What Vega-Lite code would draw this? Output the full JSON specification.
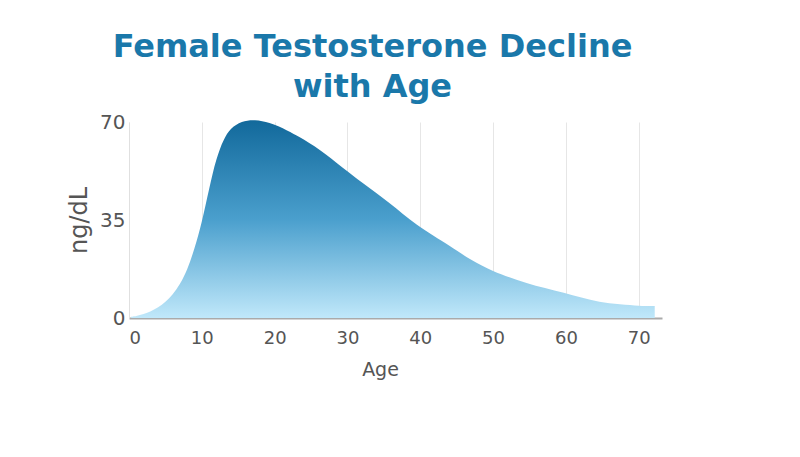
{
  "$schema": "https://vega.github.io/schema/vega-lite/v6.json",
  "autosize": {"type": "none"},
  "width": 533,
  "height": 196,
  "padding": {"left": 129, "top": 122, "right": 138, "bottom": 139},
  "background": "white",
  "title": {
    "text": ["Female Testosterone Decline", "with Age"],
    "font": "DejaVu Sans",
    "fontWeight": "bold",
    "fontSize": 32,
    "letterSpacing": 2.5,
    "color": "#1a78aa",
    "anchor": "middle",
    "dx": -23,
    "offset": 8,
    "lineHeight": 40
  },
  "data": {
    "values": [
      {"age": 0.3, "ngdl": 0.4},
      {"age": 1, "ngdl": 0.7},
      {"age": 2, "ngdl": 1.4},
      {"age": 3, "ngdl": 2.4},
      {"age": 4, "ngdl": 3.8},
      {"age": 5, "ngdl": 5.8},
      {"age": 6, "ngdl": 8.5},
      {"age": 7, "ngdl": 12.2},
      {"age": 8, "ngdl": 17.5},
      {"age": 9, "ngdl": 25},
      {"age": 10, "ngdl": 34.5},
      {"age": 11, "ngdl": 46},
      {"age": 12, "ngdl": 56.5},
      {"age": 13, "ngdl": 63.5},
      {"age": 14, "ngdl": 67.5},
      {"age": 15.5, "ngdl": 70},
      {"age": 17.3, "ngdl": 70.6},
      {"age": 19.3, "ngdl": 69.6},
      {"age": 21.7, "ngdl": 67},
      {"age": 23.4, "ngdl": 64.6},
      {"age": 26.2, "ngdl": 60},
      {"age": 29.4, "ngdl": 53.6},
      {"age": 32.1, "ngdl": 48.2},
      {"age": 35.8, "ngdl": 41},
      {"age": 39.5, "ngdl": 33.4},
      {"age": 44, "ngdl": 25.8},
      {"age": 47, "ngdl": 20.8},
      {"age": 50, "ngdl": 16.8},
      {"age": 54.6, "ngdl": 12.5},
      {"age": 59.7, "ngdl": 9},
      {"age": 64.6, "ngdl": 5.8},
      {"age": 70, "ngdl": 4.4},
      {"age": 72.2, "ngdl": 4.3}
    ]
  },
  "mark": {
    "type": "area",
    "interpolate": "catmull-rom",
    "clip": false,
    "fill": {
      "gradient": "linear",
      "x1": 0, "y1": 0, "x2": 0, "y2": 1,
      "stops": [
        {"offset": 0, "color": "#12699b"},
        {"offset": 0.5, "color": "#4a9fcd"},
        {"offset": 1, "color": "#c0e8fa"}
      ]
    }
  },
  "encoding": {
    "x": {
      "field": "age",
      "type": "quantitative",
      "scale": {"domain": [0, 73.2], "nice": false, "zero": false},
      "axis": {
        "values": [0, 10, 20, 30, 40, 50, 60, 70],
        "title": "Age",
        "titleFont": "DejaVu Sans",
        "titleFontWeight": "normal",
        "titleFontSize": 19,
        "titleColor": "#555555",
        "titlePadding": 13,
        "titleX": 251,
        "labelFont": "DejaVu Sans",
        "labelFontSize": 18,
        "labelColor": "#555555",
        "labelPadding": 11,
        "ticks": false,
        "domainColor": "#aaaaaa",
        "domainWidth": 2,
        "grid": true,
        "gridColor": "#e6e6e6",
        "gridWidth": 1
      }
    },
    "y": {
      "field": "ngdl",
      "type": "quantitative",
      "scale": {"domain": [0, 70], "nice": false},
      "axis": {
        "values": [0, 35, 70],
        "title": "ng/dL",
        "titleFont": "DejaVu Sans",
        "titleFontWeight": "normal",
        "titleFontSize": 24,
        "titleColor": "#555555",
        "titlePadding": 8,
        "labelFont": "DejaVu Sans",
        "labelFontSize": 20,
        "labelColor": "#555555",
        "labelPadding": 4,
        "ticks": false,
        "domainColor": "#e0e0e0",
        "grid": false
      }
    }
  },
  "config": {
    "view": {"stroke": null}
  }
}
